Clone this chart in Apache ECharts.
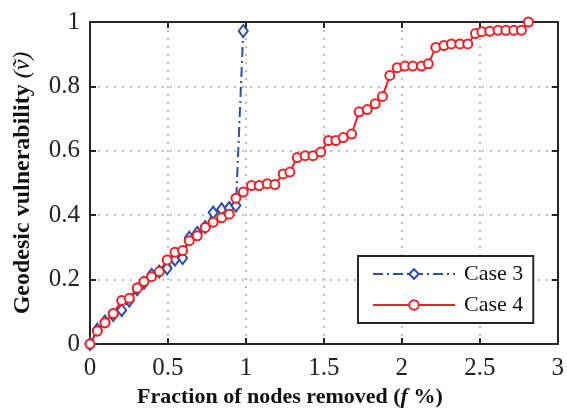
<!DOCTYPE html>
<html>
<head>
<meta charset="utf-8">
<script src="https://cdn.jsdelivr.net/npm/echarts@6/dist/echarts.min.js"></script>
<style>
html,body{margin:0;padding:0;background:#fff;}
#chart{width:567px;height:416px;}
</style>
</head>
<body>
<div id="chart"></div>
<script>
// Case 3 (blue, dash-dot, diamonds)
var case3X = [0, 0.047, 0.096, 0.149, 0.203, 0.252, 0.303, 0.346, 0.395, 0.444, 0.495, 0.545, 0.594, 0.637, 0.688, 0.739, 0.79, 0.844, 0.893, 0.936, 0.983];
var case3Y = [0, 0.045, 0.07, 0.09, 0.105, 0.135, 0.17, 0.19, 0.215, 0.225, 0.235, 0.262, 0.267, 0.33, 0.345, 0.363, 0.408, 0.418, 0.422, 0.43, 0.972];

// Case 4 (red, solid, circles)
var case4X = [0, 0.047, 0.096, 0.149, 0.203, 0.252, 0.303, 0.346, 0.395, 0.444,
  0.495, 0.545, 0.594, 0.637, 0.688, 0.739, 0.79, 0.844, 0.893, 0.936,
  0.983, 1.036, 1.085, 1.137, 1.186, 1.239, 1.282, 1.329, 1.38, 1.43,
  1.48, 1.53, 1.577, 1.624, 1.678, 1.726, 1.778, 1.829, 1.876, 1.923,
  1.97, 2.02, 2.07, 2.126, 2.17, 2.218, 2.27, 2.318, 2.372, 2.423,
  2.472, 2.513, 2.564, 2.617, 2.667, 2.718, 2.767, 2.812];
var case4Y = [0, 0.04, 0.066, 0.095, 0.135, 0.142, 0.174, 0.194, 0.209, 0.225,
  0.261, 0.285, 0.29, 0.321, 0.336, 0.362, 0.378, 0.392, 0.403, 0.453,
  0.472, 0.492, 0.492, 0.498, 0.495, 0.528, 0.534, 0.579, 0.585, 0.585,
  0.596, 0.632, 0.632, 0.641, 0.652, 0.721, 0.728, 0.746, 0.769, 0.834,
  0.858, 0.863, 0.863, 0.863, 0.870, 0.921, 0.927, 0.932, 0.932, 0.932,
  0.964, 0.970, 0.971, 0.974, 0.974, 0.974, 0.974, 1.0];

var xTicks = [0, 0.5, 1, 1.5, 2, 2.5, 3];
var yTicks = [0, 0.2, 0.4, 0.6, 0.8, 1];
var seriesNames = ['Case 3', 'Case 4'];

function pairs(xs, ys) { return xs.map(function (x, i) { return [x, ys[i]]; }); }

var FONT = 'Liberation Serif';
var BLUE = '#2c4ea6';
var RED = '#ec2227';
var AXC = '#262626';

var axisLineCommon = { show: true, onZero: false, lineStyle: { color: AXC, width: 2 } };
var tickCommon = { show: true, inside: true, length: 6, lineStyle: { color: AXC, width: 2 } };
var gridLine = { show: true, lineStyle: { type: [2, 6], color: '#bdbdbd', width: 2 } };

var chart = echarts.init(document.getElementById('chart'), null, { renderer: 'canvas' });
chart.setOption({
  animation: false,
  backgroundColor: '#fff',
  grid: { left: 90, right: 9, top: 22, bottom: 72, containLabel: false },
  legend: {
    left: 358, top: 256,
    orient: 'vertical',
    data: seriesNames,
    backgroundColor: '#fff',
    borderColor: AXC, borderWidth: 2,
    padding: [7, 10, 7, 14],
    itemGap: 9,
    itemWidth: 82, itemHeight: 12,
    textStyle: { fontFamily: FONT, fontSize: 22, color: '#111', padding: [0, 0, 0, 4] }
  },
  xAxis: [{
    type: 'value', min: xTicks[0], max: xTicks[xTicks.length - 1], interval: 0.5, position: 'bottom',
    axisLine: axisLineCommon, axisTick: tickCommon, splitLine: gridLine,
    axisLabel: { fontFamily: FONT, fontSize: 25, color: '#222', margin: 12 },
    name: '{b|Fraction of nodes removed (}{bi|f}{b| %)}',
    nameLocation: 'middle', nameGap: 39,
    nameTextStyle: { padding: [0, 68, 0, 0], rich: {
      b: { fontFamily: FONT, fontWeight: 'bold', fontSize: 22, color: '#111' },
      bi: { fontFamily: FONT, fontWeight: 'bold', fontStyle: 'italic', fontSize: 22, color: '#111' }
    } }
  }, {
    type: 'value', min: xTicks[0], max: xTicks[xTicks.length - 1], interval: 0.5, position: 'top',
    axisLine: axisLineCommon, axisTick: tickCommon, splitLine: { show: false }, axisLabel: { show: false }
  }],
  yAxis: [{
    type: 'value', min: yTicks[0], max: yTicks[yTicks.length - 1], interval: 0.2, position: 'left',
    axisLine: axisLineCommon, axisTick: tickCommon, splitLine: gridLine,
    axisLabel: { fontFamily: FONT, fontSize: 25, color: '#222', margin: 10 },
    name: '{b|Geodesic vulnerability }{i|(\u1E7D)}',
    nameLocation: 'middle', nameGap: 55, nameRotate: 90,
    nameTextStyle: { rich: {
      b: { fontFamily: FONT, fontWeight: 'bold', fontSize: 24, color: '#111' },
      i: { fontFamily: FONT, fontStyle: 'italic', fontSize: 24, color: '#111' }
    } }
  }, {
    type: 'value', min: yTicks[0], max: yTicks[yTicks.length - 1], interval: 0.2, position: 'right',
    axisLine: axisLineCommon, axisTick: tickCommon, splitLine: { show: false }, axisLabel: { show: false }
  }],
  series: [{
    name: seriesNames[0], type: 'line', xAxisIndex: 0, yAxisIndex: 0,
    data: pairs(case3X, case3Y),
    symbol: 'emptyDiamond', symbolSize: [9, 12], clip: false,
    lineStyle: { color: BLUE, width: 2, type: [10, 4, 2, 4] },
    itemStyle: { color: BLUE, borderWidth: 2 }
  }, {
    name: seriesNames[1], type: 'line', xAxisIndex: 0, yAxisIndex: 0,
    data: pairs(case4X, case4Y),
    symbol: 'emptyCircle', symbolSize: 9, clip: false,
    lineStyle: { color: RED, width: 2 },
    itemStyle: { color: RED, borderWidth: 2 }
  }]
});
</script>
</body>
</html>
